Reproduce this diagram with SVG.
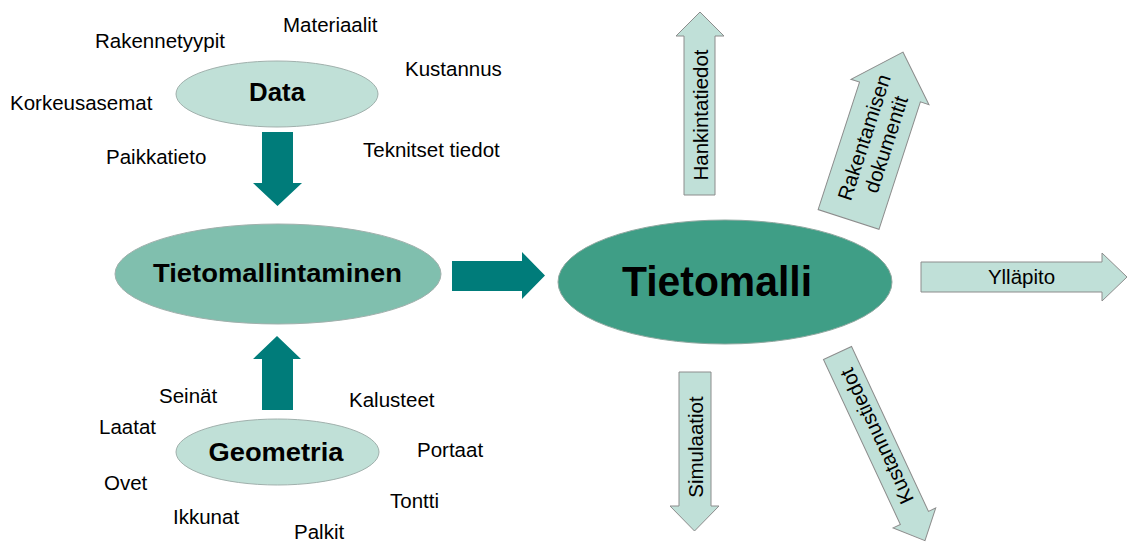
<svg xmlns="http://www.w3.org/2000/svg" width="1127" height="544" viewBox="0 0 1127 544">
<style>
.lbl{font-family:"Liberation Sans",Arial,sans-serif;font-size:20.5px;fill:#000}
.bold{font-family:"Liberation Sans",Arial,sans-serif;font-weight:bold;fill:#000;text-anchor:middle}
.light{fill:#C0E0D8;stroke:#8C8C8C;stroke-width:1}
.teal{fill:#007C7A;stroke:none}
.arr{font-family:"Liberation Sans",Arial,sans-serif;font-size:20.5px;fill:#000;text-anchor:middle}
</style>
<rect width="1127" height="544" fill="#fff"/>
<g id="connectors">
<path class="teal" d="M262,132 H293 V183 H302 L277.5,206 L253,183 H262 Z"/>
<path class="teal" d="M277,336 L301,359 H293 V410 H262 V359 H253 Z"/>
<path class="teal" d="M452,261 H522 V252 L545,275.5 L522,299 V291 H452 Z"/>
</g>
<g id="node-data">
<ellipse cx="277" cy="94" rx="101" ry="33" fill="#C0E0D7" stroke="#A0B0AC" stroke-width="1"/>
<text class="bold" x="277" y="101" font-size="26" textLength="56" lengthAdjust="spacingAndGlyphs">Data</text>
</g>
<g id="node-tietomallintaminen">
<ellipse cx="278" cy="274" rx="163" ry="50" fill="#80BFAE" stroke="#A0B0AC" stroke-width="1"/>
<text class="bold" x="277.5" y="282" font-size="25" textLength="249" lengthAdjust="spacingAndGlyphs">Tietomallintaminen</text>
</g>
<g id="node-geometria">
<ellipse cx="277.5" cy="452" rx="101.5" ry="33" fill="#C0E0D7" stroke="#A0B0AC" stroke-width="1"/>
<text class="bold" x="276" y="461" font-size="25.5" textLength="135" lengthAdjust="spacingAndGlyphs">Geometria</text>
</g>
<g id="node-tietomalli">
<ellipse cx="725" cy="282" rx="167" ry="62" fill="#3F9E86" stroke="#8FA8A0" stroke-width="1"/>
<text class="bold" x="717" y="296" font-size="42" textLength="190" lengthAdjust="spacingAndGlyphs">Tietomalli</text>
</g>
<g id="data-labels">
<text class="lbl" x="283" y="32">Materiaalit</text>
<text class="lbl" x="95" y="48">Rakennetyypit</text>
<text class="lbl" x="405" y="76">Kustannus</text>
<text class="lbl" x="10" y="110">Korkeusasemat</text>
<text class="lbl" x="106" y="164">Paikkatieto</text>
<text class="lbl" x="363" y="157">Teknitset tiedot</text>
</g>
<g id="geometry-labels">
<text class="lbl" x="159" y="403">Seinät</text>
<text class="lbl" x="349" y="407">Kalusteet</text>
<text class="lbl" x="99" y="434">Laatat</text>
<text class="lbl" x="417" y="457">Portaat</text>
<text class="lbl" x="104" y="490">Ovet</text>
<text class="lbl" x="390" y="508">Tontti</text>
<text class="lbl" x="173" y="524">Ikkunat</text>
<text class="lbl" x="294" y="539">Palkit</text>
</g>
<g id="node-hankintatiedot">
<path class="light" d="M684,195 V36 H676 L700,12 L724,36 H715 V195 Z"/>
<text class="arr" transform="translate(700,115) rotate(-90)" y="7.5">Hankintatiedot</text>
</g>
<g id="node-rakentamisen" transform="translate(875.75,135.75) rotate(18)">
<path class="light" d="M0,-88 L41,-46 H32 V88 H-32 V-46 H-41 Z"/>
<text class="arr" transform="translate(0,5) rotate(-90)"><tspan x="0" y="-3.5">Rakentamisen</tspan><tspan x="0" y="19.5">dokumentit</tspan></text>
</g>
<g id="node-yllapito">
<path class="light" d="M921,262 H1102 V253 L1127,277 L1102,301 V292 H921 Z"/>
<text class="arr" x="1021.5" y="283.5">Ylläpito</text>
</g>
<g id="node-simulaatiot">
<path class="light" d="M679,372 H711 V506 H719 L694.5,531 L670,506 H679 Z"/>
<text class="arr" transform="translate(695,447) rotate(-90)" y="7.5">Simulaatiot</text>
</g>
<g id="node-kustannustiedot" transform="translate(837.5,353) rotate(65)">
<path class="light" d="M0,-15.5 H182 V-23.5 L207,0 L182,23.5 V15.5 H0 Z"/>
<text class="arr" transform="translate(92,0) rotate(180)" y="7.5">Kustannustiedot</text>
</g>
</svg>
